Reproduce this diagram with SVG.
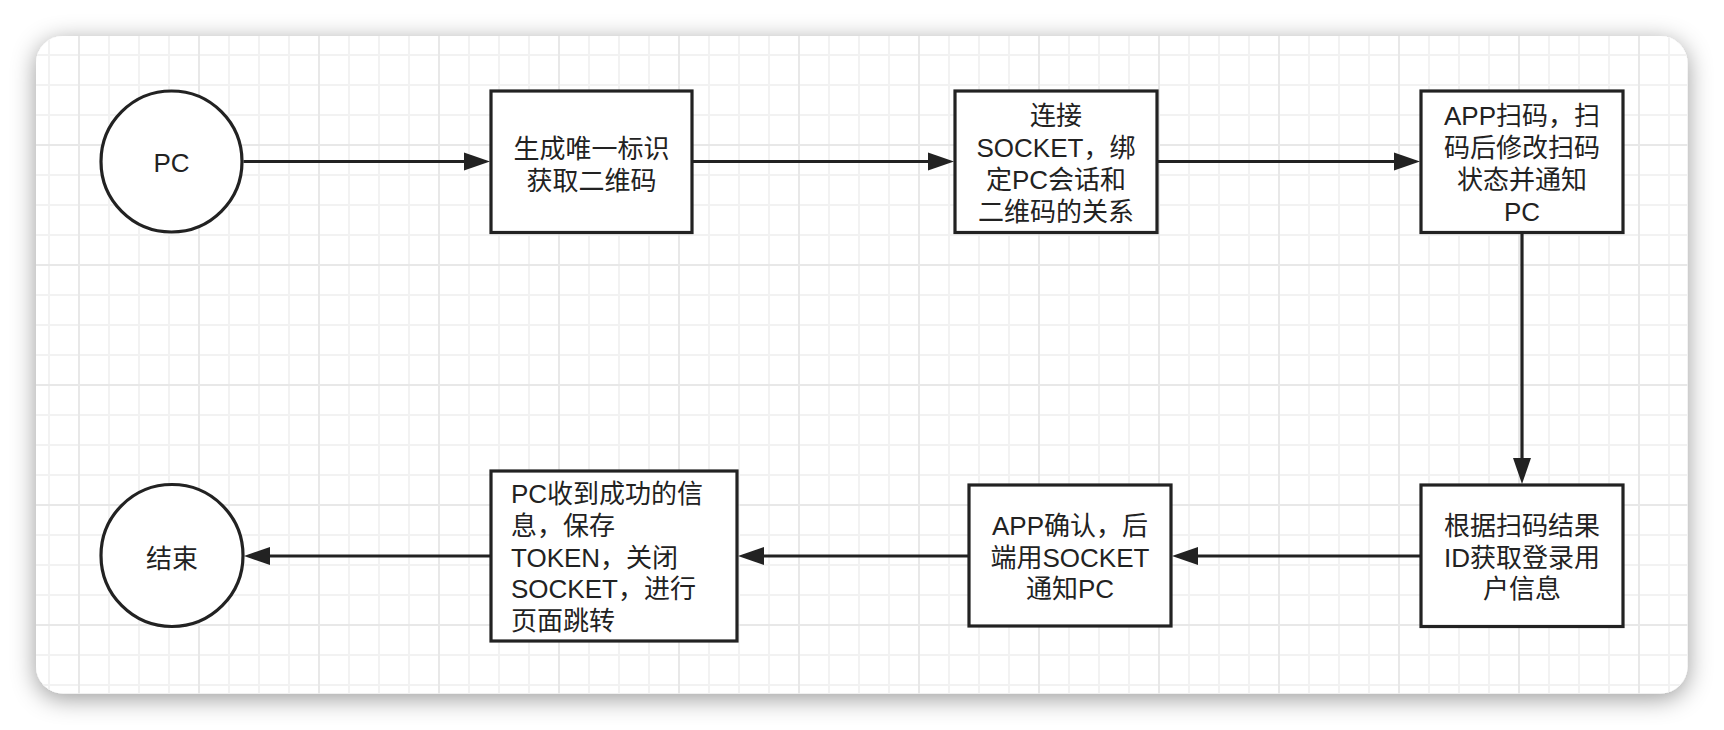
<svg xmlns="http://www.w3.org/2000/svg" width="1724" height="730" viewBox="0 0 1724 730">
  <style>
    .shape { fill: #ffffff; stroke: #222222; stroke-width: 3.2; }
    .lbl { font-family: "Liberation Sans", "Noto Sans CJK SC", sans-serif; font-size: 26px; fill: #222222; }
    .mid { text-anchor: middle; }
    .conn { fill: none; stroke: #222222; stroke-width: 3.2; }
  </style>
  <defs>
    <filter id="shadow" x="-10%" y="-20%" width="120%" height="140%">
      <feDropShadow dx="0" dy="5" stdDeviation="12" flood-color="#000000" flood-opacity="0.4"/>
    </filter>
    <pattern id="grid" patternUnits="userSpaceOnUse" x="78" y="24" width="120" height="120">
      <rect x="30" y="0" width="2" height="120" fill="#f2f2f2"/>
      <rect x="60" y="0" width="2" height="120" fill="#f2f2f2"/>
      <rect x="90" y="0" width="2" height="120" fill="#f2f2f2"/>
      <rect x="0" y="30" width="120" height="2" fill="#f2f2f2"/>
      <rect x="0" y="60" width="120" height="2" fill="#f2f2f2"/>
      <rect x="0" y="90" width="120" height="2" fill="#f2f2f2"/>
      <rect x="0" y="0" width="2" height="120" fill="#e8e8e8"/>
      <rect x="0" y="0" width="120" height="2" fill="#e8e8e8"/>
    </pattern>
    <marker id="arrow" markerUnits="userSpaceOnUse" markerWidth="27" markerHeight="19" refX="0" refY="9" orient="auto" overflow="visible">
      <path d="M0,0 L26,9 L0,18 Z" fill="#222222"/>
    </marker>
  </defs>

  <rect x="0" y="0" width="1724" height="730" fill="#ffffff"/>
  <g id="card">
    <rect x="36" y="36" width="1651.5" height="657.5" rx="27" ry="27" fill="#ffffff" filter="url(#shadow)"/>
    <rect x="36" y="36" width="1651.5" height="657.5" rx="27" ry="27" fill="url(#grid)"/>
  </g>

  <g id="connectors">
    <path class="conn" d="M243.5 161.5 H464" marker-end="url(#arrow)"/>
    <path class="conn" d="M692 161.5 H928" marker-end="url(#arrow)"/>
    <path class="conn" d="M1157 161.5 H1394" marker-end="url(#arrow)"/>
    <path class="conn" d="M1522 232.5 V458" marker-end="url(#arrow)"/>
    <path class="conn" d="M1421 556 H1198" marker-end="url(#arrow)"/>
    <path class="conn" d="M969 556 H764" marker-end="url(#arrow)"/>
    <path class="conn" d="M491 556 H270" marker-end="url(#arrow)"/>
  </g>

  <g id="node-pc">
    <circle class="shape" cx="171.5" cy="161.5" r="70.5"/>
    <text class="lbl mid" x="171.5" y="172">PC</text>
  </g>

  <g id="node-generate">
    <rect class="shape" x="491" y="91" width="201" height="141.5"/>
    <text class="lbl mid" x="591.5" y="157.5">生成唯一标识</text>
    <text class="lbl mid" x="591.5" y="190">获取二维码</text>
  </g>

  <g id="node-socket">
    <rect class="shape" x="955" y="91" width="202" height="141.5"/>
    <text class="lbl mid" x="1056" y="125">连接</text>
    <text class="lbl mid" x="1056" y="157">SOCKET，绑</text>
    <text class="lbl mid" x="1056" y="189">定PC会话和</text>
    <text class="lbl mid" x="1056" y="221">二维码的关系</text>
  </g>

  <g id="node-scan">
    <rect class="shape" x="1421" y="91" width="202" height="141.5"/>
    <text class="lbl mid" x="1522" y="125">APP扫码，扫</text>
    <text class="lbl mid" x="1522" y="157">码后修改扫码</text>
    <text class="lbl mid" x="1522" y="189">状态并通知</text>
    <text class="lbl mid" x="1522" y="221">PC</text>
  </g>

  <g id="node-userinfo">
    <rect class="shape" x="1421" y="485" width="202" height="141.5"/>
    <text class="lbl mid" x="1522" y="535">根据扫码结果</text>
    <text class="lbl mid" x="1522" y="567">ID获取登录用</text>
    <text class="lbl mid" x="1522" y="598">户信息</text>
  </g>

  <g id="node-confirm">
    <rect class="shape" x="969" y="485" width="202" height="141"/>
    <text class="lbl mid" x="1070" y="535">APP确认，后</text>
    <text class="lbl mid" x="1070" y="567">端用SOCKET</text>
    <text class="lbl mid" x="1070" y="598">通知PC</text>
  </g>

  <g id="node-success">
    <rect class="shape" x="491" y="471" width="246" height="170"/>
    <text class="lbl" x="511" y="503">PC收到成功的信</text>
    <text class="lbl" x="511" y="535">息，保存</text>
    <text class="lbl" x="511" y="567">TOKEN，关闭</text>
    <text class="lbl" x="511" y="598">SOCKET，进行</text>
    <text class="lbl" x="511" y="630">页面跳转</text>
  </g>

  <g id="node-end">
    <circle class="shape" cx="172" cy="555.5" r="71"/>
    <text class="lbl mid" x="172" y="568">结束</text>
  </g>
</svg>
